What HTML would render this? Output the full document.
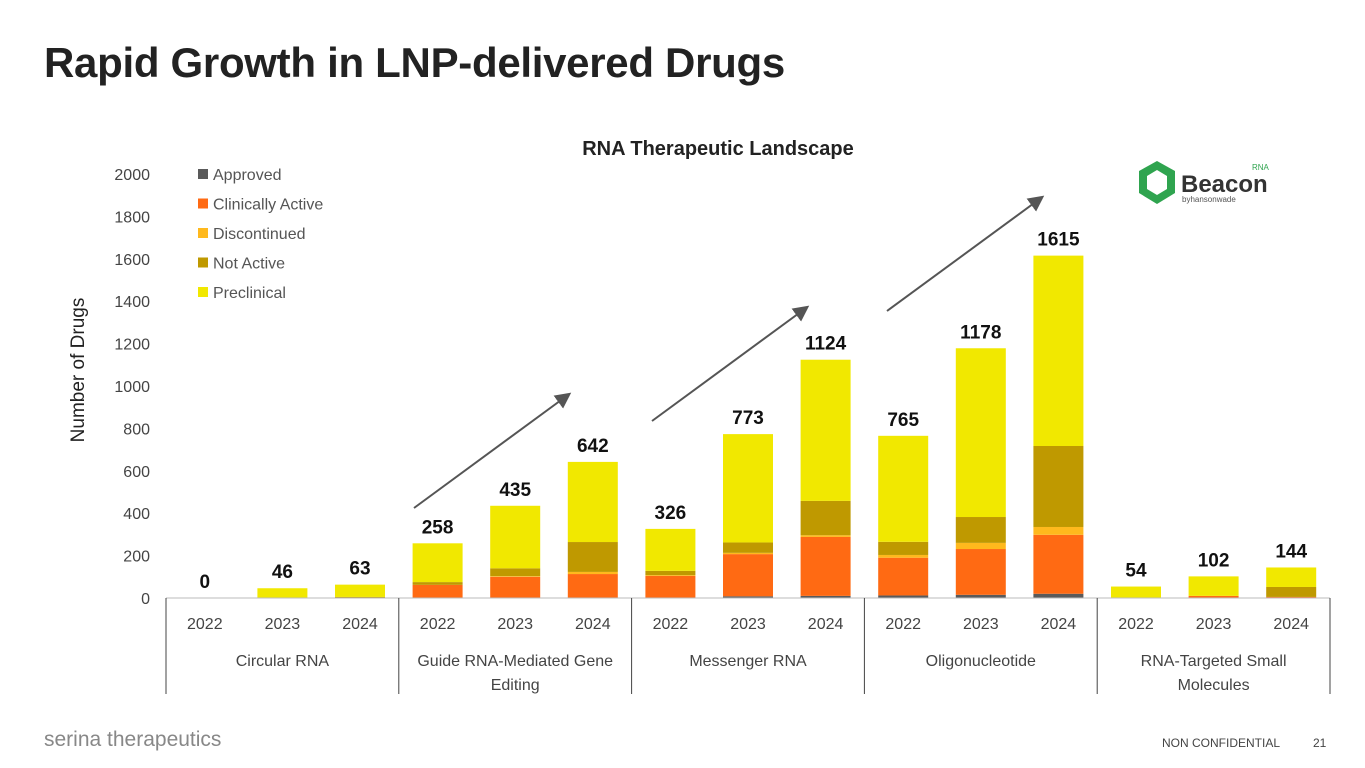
<!DOCTYPE html>
<html><head><meta charset="utf-8">
<style>
body{margin:0;width:1365px;height:768px;background:#fff;font-family:"Liberation Sans",sans-serif;overflow:hidden;position:relative}
h1{position:absolute;left:44px;top:39px;margin:0;font-size:42px;font-weight:bold;color:#222;letter-spacing:-0.3px}
</style></head>
<body>
<h1>Rapid Growth in LNP-delivered Drugs</h1>
<svg id="chart" width="1365" height="768" style="position:absolute;left:0;top:0"></svg>
<script>
const categories=["2022","2023","2024","2022","2023","2024","2022","2023","2024","2022","2023","2024","2022","2023","2024"];
const groups=["Circular RNA","Guide RNA-Mediated Gene|Editing","Messenger RNA","Oligonucleotide","RNA-Targeted Small|Molecules"];
const approved=[0,0,0,0,0,0,0,8,10,12,15,20,0,0,0];
const clinical=[0,0,0,62,100,113,104,199,278,178,216,278,0,10,5];
const discontinued=[0,0,0,0,3,10,4,6,8,13,29,37,0,0,0];
const notActive=[0,0,5,13,37,141,20,49,162,62,122,382,0,0,47];
const preclinical=[0,46,58,183,295,378,198,511,666,500,796,898,54,92,92];
const totals=[0,46,63,258,435,642,326,773,1124,765,1178,1615,54,102,144];
const yTicks=[0,200,400,600,800,1000,1200,1400,1600,1800,2000];
const seriesNames=["Approved","Clinically Active","Discontinued","Not Active","Preclinical"];
const seriesColors=["#5a5a5a","#ff6a13","#ffb91d","#bf9900","#f1e800"];
const series=[approved,clinical,discontinued,notActive,preclinical];

const svg=document.getElementById('chart');
const NS="http://www.w3.org/2000/svg";
const x0=166,x1=1330,y0=598,yTop=174,yMax=2000;
const slot=(x1-x0)/categories.length, bw=50;
const y=v=>y0-(v/yMax)*(y0-yTop);
const xc=i=>x0+slot*(i+0.5);
function mk(tag,attrs,text){const e=document.createElementNS(NS,tag);for(const k in attrs)e.setAttribute(k,attrs[k]);if(text!==undefined)e.textContent=text;svg.appendChild(e);return e;}
const F='"Liberation Sans",sans-serif';

let t=mk('text',{x:718,y:155,'text-anchor':'middle','font-size':20,'font-weight':'bold',fill:'#222','font-family':F},'RNA Therapeutic Landscape');

t=mk('text',{x:0,y:0,transform:'translate(84,370) rotate(-90)','text-anchor':'middle','font-size':19,fill:'#222','font-family':F},'Number of Drugs');


yTicks.forEach(v=>{const e=mk('text',{x:150,y:y(v)+6,'text-anchor':'end','font-size':16,fill:'#444','font-family':F},String(v));
});

categories.forEach((c,i)=>{
  let base=0;
  series.forEach((s,si)=>{
    if(s[i]>0){const r=mk('rect',{x:xc(i)-bw/2,y:y(base+s[i]),width:bw,height:y(base)-y(base+s[i]),fill:seriesColors[si]});
    
    }
    base+=s[i];
  });
  const lb=mk('text',{x:xc(i),y:y(totals[i])-10,'text-anchor':'middle','font-size':19,'font-weight':'bold',fill:'#111','font-family':F},String(totals[i]));
  
  const cl=mk('text',{x:xc(i),y:629,'text-anchor':'middle','font-size':16,fill:'#444','font-family':F},c);
  
});
let ax=mk('line',{x1:x0,y1:y0,x2:x1,y2:y0,stroke:'#bbb','stroke-width':1});

for(let g=0;g<=groups.length;g++){const gx=x0+slot*3*g;
  const l=mk('line',{x1:gx,y1:y0,x2:gx,y2:694,stroke:'#444','stroke-width':1});
  }
groups.forEach((g,gi)=>{const cx=x0+slot*3*(gi+0.5);g.split('|').forEach((ln,k)=>{
  const e=mk('text',{x:cx,y:666+k*24,'text-anchor':'middle','font-size':16,fill:'#444','font-family':F},ln);
  });});

seriesNames.forEach((n,i)=>{const ly=174+i*29.5;
  const r=mk('rect',{x:198,y:ly-5,width:10,height:10,fill:seriesColors[i]});
  
  const e=mk('text',{x:213,y:ly+6,'font-size':16,fill:'#555','font-family':F},n);
  });

const defs=mk('defs',{});
defs.innerHTML='<marker id="ah" markerWidth="8" markerHeight="8" refX="6" refY="4" orient="auto"><path d="M0,0 L8,4 L0,8 z" fill="#555"/></marker>';
[[414,508,568,395],[652,421,806,308],[887,311,1041,198]].forEach(a=>{
  const l=mk('line',{x1:a[0],y1:a[1],x2:a[2],y2:a[3],stroke:'#555','stroke-width':2,'marker-end':'url(#ah)'});
  });

const lg=mk('g',{});
lg.innerHTML='<polygon points="1157,161 1175,171 1175,193 1157,204 1139,193 1139,171" fill="#2fa44f"/><polygon points="1157,170 1167,176 1167,189 1157,195 1147,189 1147,176" fill="#fff"/><text x="1181" y="192" font-size="24" font-weight="bold" fill="#333" font-family="Liberation Sans,sans-serif">Beacon</text><text x="1252" y="170" font-size="8" fill="#2fa44f" font-family="Liberation Sans,sans-serif">RNA</text><text x="1182" y="202" font-size="8" fill="#555" font-family="Liberation Sans,sans-serif">byhansonwade</text>';

let f=mk('text',{x:44,y:746,'font-size':21,fill:'#888','font-family':F},'serina therapeutics');

f=mk('text',{x:1162,y:747,'font-size':12,fill:'#444','font-family':F},'NON CONFIDENTIAL');

f=mk('text',{x:1313,y:747,'font-size':12,fill:'#444','font-family':F},'21');

</script>
</body></html>
